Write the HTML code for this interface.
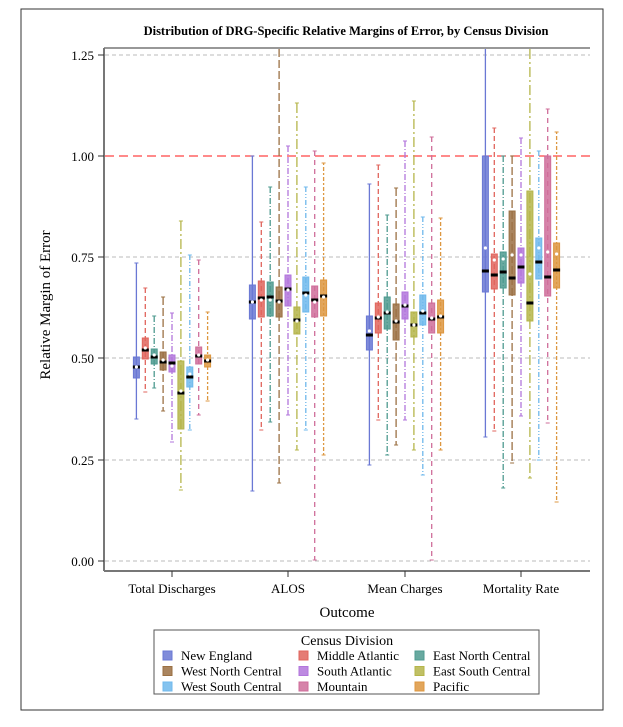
<!DOCTYPE html>
<html><head><meta charset="utf-8"><style>
body{margin:0;background:#fff}
svg{display:block;font-family:"Liberation Serif",serif}
</style></head><body>
<svg id="s" width="623" height="727" xmlns="http://www.w3.org/2000/svg">
<rect x="21" y="9" width="582" height="701" fill="#fff" stroke="#333" stroke-width="1"/>
<text x="346" y="35" text-anchor="middle" font-size="12.5" font-weight="bold">Distribution of DRG-Specific Relative Margins of Error, by Census Division</text>
<g stroke="#bbb" stroke-dasharray="4,3" stroke-width="1">
<line x1="105" x2="590" y1="55" y2="55"/>
<line x1="105" x2="590" y1="257" y2="257"/>
<line x1="105" x2="590" y1="358" y2="358"/>
<line x1="105" x2="590" y1="460" y2="460"/>
<line x1="105" x2="590" y1="561" y2="561"/>
</g>
<line x1="105" x2="590" y1="156" y2="156" stroke="#f44" stroke-width="1.3" stroke-dasharray="9,5"/>
<g id="boxes"></g>
<line x1="104" y1="48" x2="104" y2="571" stroke="#777" stroke-width="2"/>
<line x1="104" y1="571" x2="590" y2="571" stroke="#777" stroke-width="2"/>
<line x1="104" y1="48" x2="590" y2="48" stroke="#777" stroke-width="1.5"/>
<g stroke="#333"><line x1="98" x2="104" y1="55" y2="55"/><line x1="98" x2="104" y1="156" y2="156"/><line x1="98" x2="104" y1="257" y2="257"/><line x1="98" x2="104" y1="358" y2="358"/><line x1="98" x2="104" y1="460" y2="460"/><line x1="98" x2="104" y1="561" y2="561"/>
<line x1="172" x2="172" y1="571" y2="577"/><line x1="288" x2="288" y1="571" y2="577"/><line x1="405" x2="405" y1="571" y2="577"/><line x1="521" x2="521" y1="571" y2="577"/></g>
<g font-size="13" text-anchor="end"><text x="94" y="60">1.25</text><text x="94" y="161">1.00</text><text x="94" y="262">0.75</text><text x="94" y="363">0.50</text><text x="94" y="465">0.25</text><text x="94" y="566">0.00</text></g>
<g font-size="13" text-anchor="middle"><text x="172" y="593">Total Discharges</text><text x="288" y="593">ALOS</text><text x="405" y="593">Mean Charges</text><text x="521" y="593">Mortality Rate</text>
<text x="347" y="617" font-size="15">Outcome</text></g>
<text transform="translate(50,305) rotate(-90)" text-anchor="middle" font-size="15">Relative Margin of Error</text>
<rect x="154" y="630" width="385" height="64" fill="#fff" stroke="#555"/>
<text x="347" y="645" text-anchor="middle" font-size="14">Census Division</text>
<g id="leg" font-size="13"></g>
</svg>
<script>
var cols=["#6a78d4","#e0655d","#4e9a8f","#9b7043","#b276dc","#b5b54a","#6fb8ec","#cf6d9a","#dd9740"];
var dash=["","5,3","6,2,1,2","8,3","6,2,1,2","10,3,2,3","5,2,1,2,1,2","5,4","2,2,4,2"];
var names=["New England","Middle Atlantic","East North Central","West North Central","South Atlantic","East South Central","West South Central","Mountain","Pacific"];
// [wtop,wbot,q3,q1,med,mean]
var D=[
[[263,419,357,378,367,367],[288,392,338,359,350,348],[316,388,349,364,357,355],[297,411,352,370,362,360],[313,442,355,372,363,366],[221,490,361,429,393,391],[255,430,367,387,377,374],[260,415,347,364,356,355],[312,401,355,367,361,360]],
[[156,491,285,319,302,302],[222,430,281,317,298,300],[187,422,282,316,297,300],[48,483,287,317,301,302],[146,415,275,306,289,290],[103,450,307,334,320,321],[187,430,277,312,293,295],[151,560,286,317,300,302],[163,455,280,316,296,297]],
[[184,465,316,350,335,331],[165,420,303,333,318,317],[215,455,297,329,313,312],[188,445,304,340,322,321],[141,420,292,319,306,305],[101,450,312,337,325,325],[217,475,295,325,313,311],[137,560,303,333,319,318],[218,450,300,333,317,316]],
[[48,437,156,292,271,248],[128,431,254,289,275,260],[156,488,252,288,272,259],[156,463,211,295,278,255],[138,416,248,283,267,255],[48,478,191,321,303,274],[151,460,238,279,262,248],[109,423,156,296,277,252],[132,502,243,288,270,254]]];
var cx=[172,288,405,521],h="";
for(var g=0;g<4;g++)for(var i=0;i<9;i++){var d=D[g][i],x=cx[g]+(i-4)*8.9,c=cols[i];
h+='<line x1="'+x+'" x2="'+x+'" y1="'+Math.max(d[0],49)+'" y2="'+d[1]+'" stroke="'+c+'" stroke-width="1.3"'+(dash[i]?' stroke-dasharray="'+dash[i]+'"':'')+'/>';
h+='<line x1="'+(x-2)+'" x2="'+(x+2)+'" y1="'+d[0]+'" y2="'+d[0]+'" stroke="'+c+'"/><line x1="'+(x-2)+'" x2="'+(x+2)+'" y1="'+d[1]+'" y2="'+d[1]+'" stroke="'+c+'"/>';
h+='<rect x="'+(x-3)+'" y="'+d[2]+'" width="6" height="'+(d[3]-d[2])+'" fill="'+c+'" fill-opacity="0.85" stroke="'+c+'"/>';
h+='<rect x="'+(x-3.5)+'" y="'+(d[4]-1.5)+'" width="7" height="3" fill="#000"/>';
h+='<circle cx="'+x+'" cy="'+d[5]+'" r="1.6" fill="#fff"/>';}
document.getElementById("boxes").innerHTML=h;
var sx=[163,299,415],l="";
for(var i=0;i<9;i++){var r=Math.floor(i/3),c=i%3,y=651+r*15.5;
l+='<rect x="'+sx[c]+'" y="'+y+'" width="9" height="9" fill="'+cols[i]+'" stroke="'+cols[i]+'" fill-opacity="0.85"/><text x="'+(sx[c]+18)+'" y="'+(y+9)+'">'+names[i]+'</text>';}
document.getElementById("leg").innerHTML=l;
</script>
</body></html>
